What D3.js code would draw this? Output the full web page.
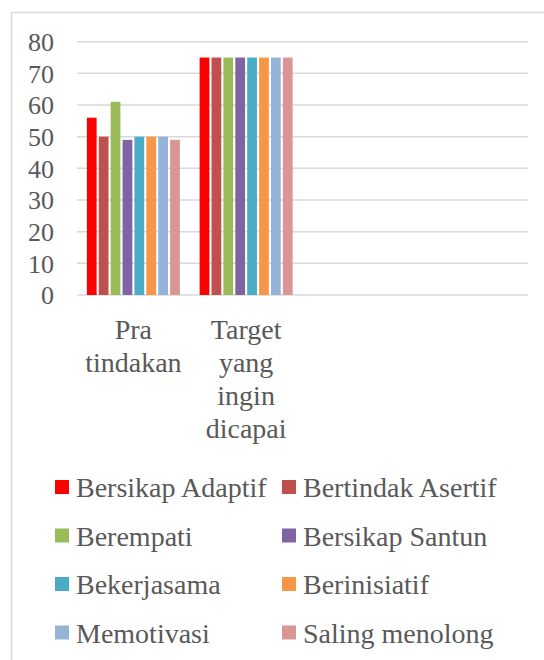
<!DOCTYPE html>
<html><head><meta charset="utf-8">
<script src="https://cdn.jsdelivr.net/npm/d3@7"></script>
<style>html,body{margin:0;padding:0;background:#fff;}</style>
</head><body>
<svg id="c" width="544" height="660" font-family="Liberation Serif" style="font-family:'Liberation Serif';display:block"></svg>
<script>
const categories = ["Pra tindakan", "Target yang ingin dicapai", "", ""];
const seriesNames = ["Bersikap Adaptif","Bertindak Asertif","Berempati","Bersikap Santun","Bekerjasama","Berinisiatif","Memotivasi","Saling menolong"];
const seriesColors = ["#FF0000","#C0504D","#9BBB59","#8064A2","#4BACC6","#F79646","#95B3D7","#D99694"];
const praTindakan = [56, 50, 61, 49, 50, 50, 50, 49];
const target = [75, 75, 75, 75, 75, 75, 75, 75];
const yTicks = [0,10,20,30,40,50,60,70,80];

const values = [praTindakan, target, null, null];
const svg = d3.select("#c");
const textColor = "#595959";

svg.append("path").attr("d","M11.5,660 L11.5,12.5 L544,12.5").attr("fill","none").attr("stroke","#D9D9D9").attr("stroke-width",1.5);

const pL = 77, pR = 528, pT = 41.7, pB = 295;
const x0 = d3.scaleBand().domain(d3.range(categories.length)).range([pL,pR]).paddingInner(0.175).paddingOuter(0.0875);
const x1 = d3.scaleBand().domain(d3.range(seriesNames.length)).range([0,x0.bandwidth()]).paddingInner(0.18).paddingOuter(0.0);
const y = d3.scaleLinear().domain([0,80]).range([pB,pT]);

svg.append("g").selectAll("line").data(yTicks).join("line")
  .attr("x1",pL).attr("x2",pR).attr("y1",d=>y(d)).attr("y2",d=>y(d))
  .attr("stroke","#D9D9D9").attr("stroke-width",1.5);

const yAxis = d3.axisLeft(y).tickValues(yTicks).tickSize(0).tickPadding(0);
const gy = svg.append("g").attr("transform","translate(54,0)").call(yAxis);
gy.attr("font-family","Liberation Serif").attr("font-size",26);
gy.select(".domain").remove();
gy.selectAll("text").attr("font-family","Liberation Serif").attr("font-size",26).attr("fill",textColor).attr("dy","0.34em");

values.forEach((vals,ci)=>{
  if(!vals) return;
  svg.append("g").attr("transform",`translate(${x0(ci)},0)`)
    .selectAll("rect").data(vals).join("rect")
    .attr("x",(d,i)=>x1(i)).attr("width",x1.bandwidth())
    .attr("y",d=>y(d)).attr("height",d=>y(0)-y(d))
    .attr("fill",(d,i)=>seriesColors[i]);
});

const maxW = x0.step();
const meas = svg.append("text").attr("font-family","Liberation Serif").attr("font-size",28).attr("visibility","hidden");
function textW(s){ meas.text(s); return meas.node().getComputedTextLength(); }
categories.forEach((c,ci)=>{
  if(!c) return;
  const words = c.split(" ");
  const lines = []; let cur = "";
  words.forEach(w=>{
    const t = cur ? cur+" "+w : w;
    if(cur && textW(t) > maxW - 4){ lines.push(cur); cur = w; } else cur = t;
  });
  if(cur) lines.push(cur);
  const t = svg.append("text").attr("font-family","Liberation Serif").attr("font-size",28).attr("fill",textColor).attr("text-anchor","middle");
  lines.forEach((l,li)=>{
    t.append("tspan").attr("x",x0(ci)+x0.bandwidth()/2).attr("y",pB+44+li*33).text(l);
  });
});
meas.remove();

const legX = [55, 282], legY0 = 487, legDy = 48.5;
const lg = svg.append("g");
seriesNames.forEach((n,i)=>{
  const col = i%2, row = Math.floor(i/2);
  const cy = legY0 + row*legDy;
  lg.append("rect").attr("x",legX[col]).attr("y",cy-7).attr("width",14).attr("height",14).attr("fill",seriesColors[i]);
  lg.append("text").attr("x",legX[col]+21).attr("y",cy+10).attr("font-family","Liberation Serif").attr("font-size",28).attr("fill",textColor).text(n);
});
</script>
</body></html>
